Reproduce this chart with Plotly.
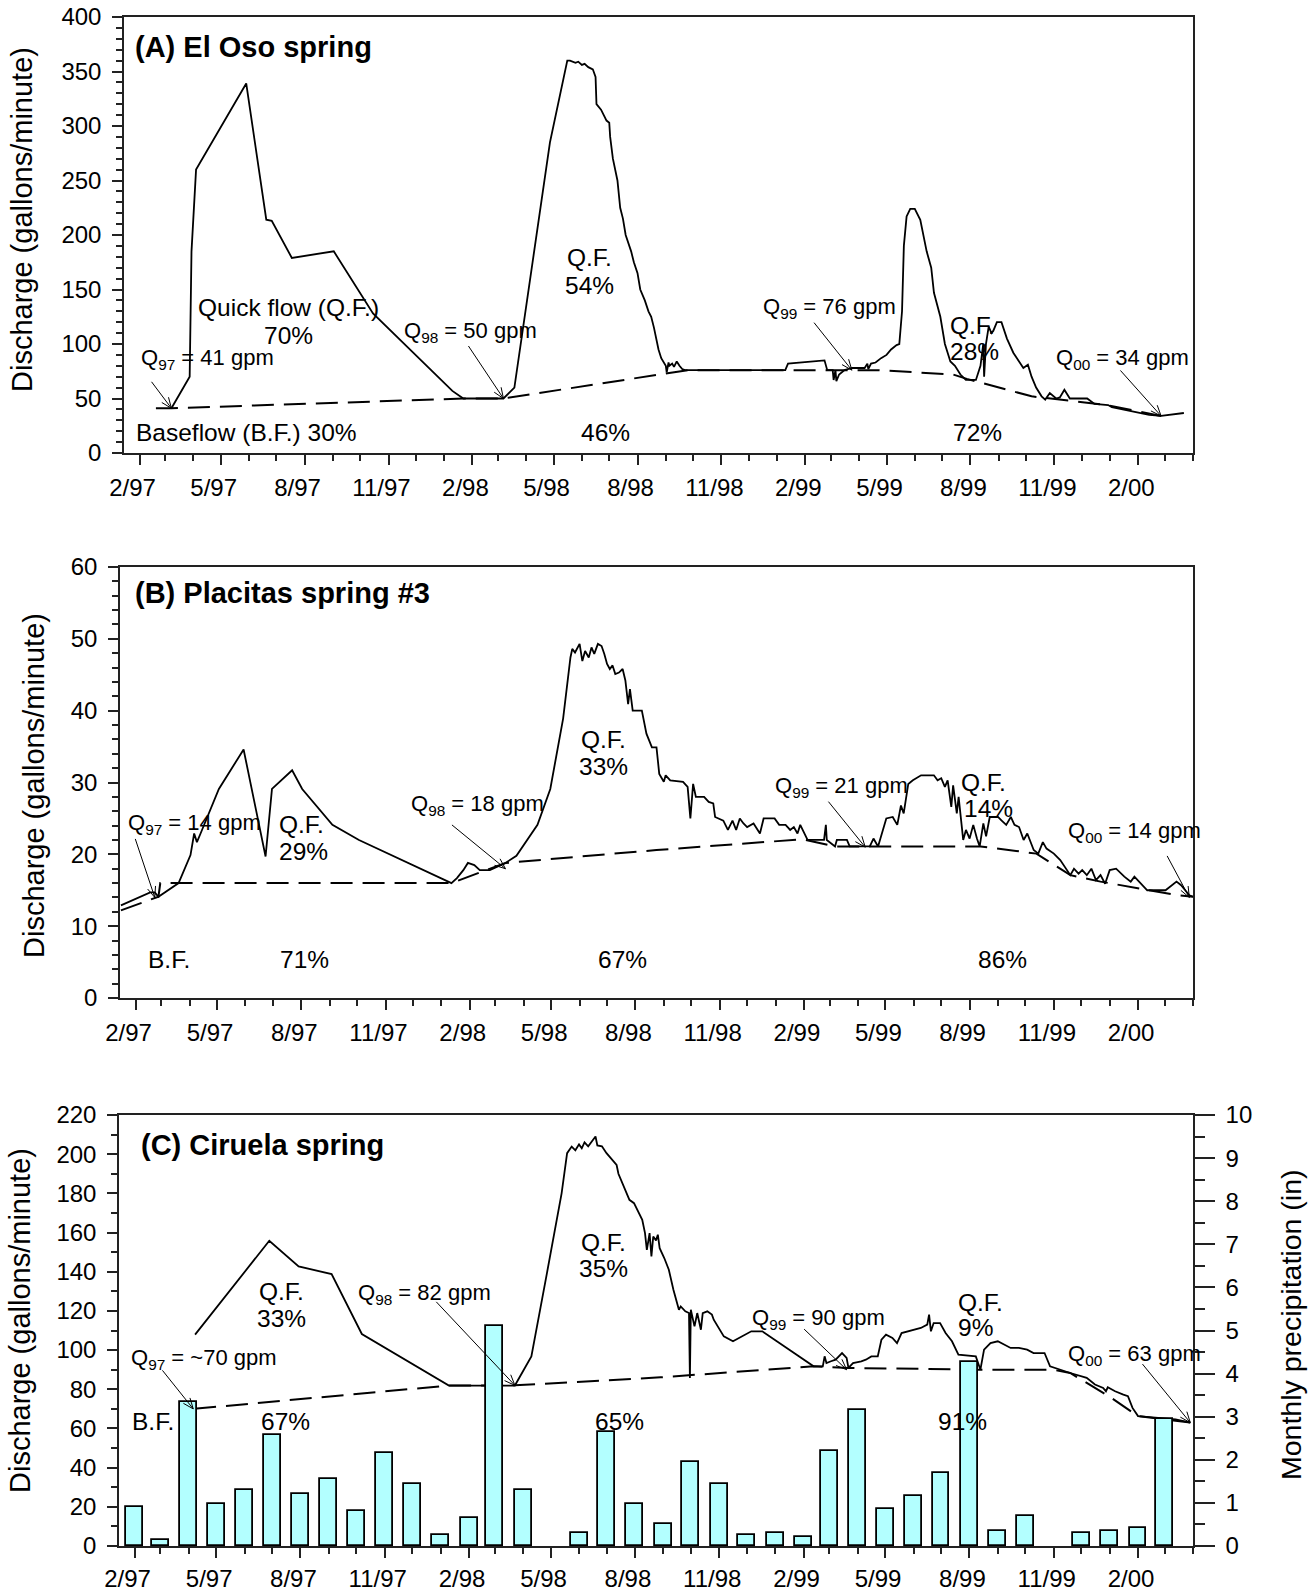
import math
import plotly.graph_objects as go

FONT = "Liberation Sans, Arial, sans-serif"
W, H = 1315, 1596
AXC = "#222222"

# ---------------- (A) El Oso spring ----------------
a_dates = [
    "1997-03-08", "1997-03-28", "1997-03-30", "1997-04-04", "1997-05-29", "1997-06-20",
    "1997-06-26", "1997-07-18", "1997-09-02", "1997-10-15", "1998-01-10", "1998-01-22",
    "1998-03-07", "1998-03-19", "1998-04-27", "1998-05-16", "1998-05-19", "1998-05-25",
    "1998-05-28", "1998-06-01", "1998-06-04", "1998-06-08", "1998-06-13", "1998-06-16",
    "1998-06-17", "1998-06-22", "1998-06-25", "1998-06-28", "1998-07-01", "1998-07-02",
    "1998-07-05", "1998-07-10", "1998-07-13", "1998-07-16", "1998-07-19", "1998-07-25",
    "1998-07-28", "1998-08-01", "1998-08-04", "1998-08-09", "1998-08-13", "1998-08-16",
    "1998-08-19", "1998-08-24", "1998-08-27", "1998-09-01", "1998-09-02", "1998-09-04",
    "1998-09-05", "1998-09-08", "1998-09-10", "1998-09-13", "1998-09-16", "1998-09-19",
    "1998-09-22", "1999-01-10", "1999-01-13", "1999-02-22", "1999-02-25", "1999-03-03",
    "1999-03-04", "1999-03-06", "1999-03-07", "1999-03-10", "1999-03-16", "1999-03-24",
    "1999-04-07", "1999-04-10", "1999-04-11", "1999-04-14", "1999-04-19", "1999-04-25",
    "1999-05-01", "1999-05-06", "1999-05-12", "1999-05-15", "1999-05-18", "1999-05-20",
    "1999-05-23", "1999-05-27", "1999-06-01", "1999-06-07", "1999-06-14", "1999-06-19",
    "1999-06-22", "1999-06-29", "1999-07-04", "1999-07-10", "1999-07-15", "1999-07-21",
    "1999-07-27", "1999-08-07", "1999-08-12", "1999-08-15", "1999-08-16", "1999-08-18",
    "1999-08-21", "1999-08-24", "1999-08-26", "1999-08-30", "1999-09-04", "1999-09-10",
    "1999-09-17", "1999-09-25", "1999-09-28", "1999-10-03", "1999-10-07", "1999-10-12",
    "1999-10-18", "1999-10-22", "1999-10-27", "1999-11-03", "1999-11-07", "1999-11-12",
    "1999-11-18", "1999-12-07", "1999-12-15", "1999-12-30", "2000-01-03", "2000-02-13",
    "2000-02-26", "2000-03-22",
]
a_flow = [
    41, 70, 185, 260, 339, 214,
    213, 179, 185, 128, 57, 50,
    50, 60, 285, 360, 360, 358,
    359, 356, 357, 354, 352, 345,
    320, 315, 310, 305, 303, 290,
    270, 250, 225, 215, 200, 185,
    175, 165, 150, 140, 130, 125,
    115, 95, 87, 80, 74, 83,
    80, 82, 79, 84, 80, 77,
    76, 76, 82, 85, 76, 76,
    67, 76, 66, 72, 76, 78,
    78, 82, 77, 82, 83, 87,
    90, 95, 99, 100, 130, 190,
    217, 224, 224, 214, 185, 170,
    147, 125, 100, 84, 80, 72,
    67, 67, 80, 100, 70, 100,
    116, 110, 112, 120, 120, 105,
    92, 82, 78, 81, 70, 60,
    52, 49, 55, 50, 51, 58,
    50, 50, 45, 44, 42, 35,
    34, 36.7,
]
a_base_dates = ["1997-02-19", "1997-03-08", "1998-01-22", "1998-03-07", "1998-09-25",
                "1999-04-22", "1999-07-13", "1999-07-28", "1999-10-07", "1999-12-28",
                "2000-02-26"]
a_base = [41, 41, 50, 50, 76, 76, 72, 68, 52, 44, 34]

# ---------------- (B) Placitas spring #3 ----------------
b_dates = [
    "1997-01-16", "1997-02-17", "1997-02-22", "1997-02-26", "1997-03-20", "1997-04-02",
    "1997-04-06", "1997-04-09", "1997-04-13", "1997-05-03", "1997-05-30", "1997-06-23",
    "1997-06-30", "1997-07-22", "1997-08-02", "1997-09-04", "1997-10-03", "1998-01-12",
    "1998-01-18", "1998-01-25", "1998-01-30", "1998-02-06", "1998-02-12", "1998-02-23",
    "1998-03-12", "1998-03-24", "1998-04-16", "1998-04-30", "1998-05-14", "1998-05-22",
    "1998-05-24", "1998-05-27", "1998-06-01", "1998-06-04", "1998-06-07", "1998-06-11",
    "1998-06-14", "1998-06-17", "1998-06-21", "1998-06-25", "1998-06-28", "1998-07-01",
    "1998-07-04", "1998-07-07", "1998-07-10", "1998-07-14", "1998-07-18", "1998-07-21",
    "1998-07-24", "1998-07-26", "1998-07-29", "1998-08-08", "1998-08-13", "1998-08-19",
    "1998-08-24", "1998-08-27", "1998-09-01", "1998-09-03", "1998-09-08", "1998-09-22",
    "1998-09-27", "1998-09-30", "1998-10-03", "1998-10-06", "1998-10-15", "1998-10-20",
    "1998-10-25", "1998-10-27", "1998-11-05", "1998-11-10", "1998-11-15", "1998-11-19",
    "1998-11-23", "1998-11-27", "1998-12-01", "1998-12-08", "1998-12-15", "1998-12-19",
    "1998-12-31", "1999-01-05", "1999-01-12", "1999-01-17", "1999-01-21", "1999-01-25",
    "1999-01-28", "1999-02-05", "1999-02-14", "1999-02-23", "1999-02-25", "1999-02-26",
    "1999-03-07", "1999-03-09", "1999-03-20", "1999-03-23", "1999-04-14", "1999-04-18",
    "1999-04-23", "1999-04-27", "1999-05-02", "1999-05-09", "1999-05-14", "1999-05-18",
    "1999-05-21", "1999-05-26", "1999-05-31", "1999-06-09", "1999-06-23", "1999-06-27",
    "1999-07-01", "1999-07-05", "1999-07-08", "1999-07-12", "1999-07-14", "1999-07-18",
    "1999-07-20", "1999-07-25", "1999-07-28", "1999-08-01", "1999-08-05", "1999-08-09",
    "1999-08-12", "1999-08-16", "1999-08-19", "1999-08-23", "1999-09-01", "1999-09-05",
    "1999-09-10", "1999-09-15", "1999-09-19", "1999-09-24", "1999-09-29", "1999-10-03",
    "1999-10-10", "1999-10-15", "1999-10-20", "1999-10-24", "1999-11-01", "1999-11-08",
    "1999-11-15", "1999-11-19", "1999-11-23", "1999-11-28", "1999-12-02", "1999-12-07",
    "1999-12-12", "1999-12-17", "1999-12-22", "1999-12-27", "2000-01-01", "2000-01-08",
    "2000-01-17", "2000-01-24", "2000-01-28", "2000-02-11", "2000-03-02", "2000-03-14",
    "2000-03-19", "2000-03-28", "2000-04-01",
]
b_flow = [
    12.9, 14.7, 14.7, 14.1, 16.0, 19.9,
    22.9, 21.7, 22.9, 29.1, 34.6, 19.7,
    29.1, 31.7, 29.1, 24.1, 22.0, 16.0,
    16.7, 17.8, 18.8, 18.5, 17.8, 17.8,
    18.8, 19.8, 24.1, 29.1, 38.9, 47.4,
    48.6, 48.1, 49.3, 46.9, 48.3, 47.4,
    48.8, 47.9, 49.3, 49.0, 47.9, 46.5,
    45.8, 46.3, 45.1, 45.3, 45.8, 44.2,
    40.9, 43.0, 40.0, 40.0, 36.8, 34.9,
    34.9, 31.2, 30.1, 31.0, 30.3, 30.1,
    29.4, 25.0, 29.8, 28.0, 28.0, 27.3,
    27.1, 25.2, 24.7, 23.4, 24.7, 23.4,
    25.0, 24.3, 23.8, 24.3, 22.9, 25.0,
    25.0, 24.1, 24.1, 23.4, 23.8, 22.9,
    24.1, 22.0, 22.0, 22.0, 24.1, 22.0,
    21.1, 22.0, 22.0, 21.1, 21.1, 22.2,
    21.1, 22.9, 25.0, 25.2, 24.1, 26.8,
    25.7, 29.8, 30.3, 31.0, 31.0, 30.3,
    30.6, 29.4, 30.3, 26.6, 29.6, 25.7,
    28.0, 22.0, 23.4, 22.2, 24.1, 22.2,
    21.1, 24.3, 22.5, 25.2, 25.2, 24.7,
    24.1, 25.2, 24.1, 23.8, 22.0, 22.9,
    20.6, 20.1, 21.7, 20.8, 20.1, 19.2,
    17.8, 17.1, 18.0, 17.3, 17.8, 17.1,
    18.0, 16.4, 17.1, 15.9, 17.8, 18.0,
    16.9, 16.2, 16.9, 15.0, 15.0, 16.2,
    15.7, 14.3, 14.1,
]
b_base_dates = ["1997-01-16", "1997-02-26", "1997-02-28", "1998-01-12", "1998-03-12",
                "1998-08-24", "1999-01-31", "1999-03-07", "1999-08-13", "1999-10-13",
                "1999-11-19", "1999-12-22", "2000-03-16", "2000-04-01"]
b_base = [12.2, 14.1, 16.0, 16.0, 18.8, 20.6, 22.1, 21.1, 21.1, 20.1, 17.1, 16.2, 14.3, 14.1]

# ---------------- (C) Ciruela spring ----------------
c_dates = [
    "1997-04-08", "1997-06-28", "1997-07-30", "1997-09-04", "1997-10-07", "1998-01-10",
    "1998-03-23", "1998-04-10", "1998-04-27", "1998-05-13", "1998-05-19", "1998-05-24",
    "1998-05-28", "1998-06-01", "1998-06-04", "1998-06-07", "1998-06-11", "1998-06-16",
    "1998-06-19", "1998-06-21", "1998-06-26", "1998-07-01", "1998-07-08", "1998-07-12",
    "1998-07-14", "1998-07-21", "1998-07-26", "1998-07-31", "1998-08-05", "1998-08-09",
    "1998-08-12", "1998-08-14", "1998-08-17", "1998-08-19", "1998-08-21", "1998-08-24",
    "1998-08-26", "1998-08-28", "1998-09-02", "1998-09-07", "1998-09-12", "1998-09-16",
    "1998-09-18", "1998-09-20", "1998-09-25", "1998-09-29", "1998-09-30", "1998-10-01",
    "1998-10-05", "1998-10-08", "1998-10-12", "1998-10-14", "1998-10-19", "1998-10-24",
    "1998-10-26", "1998-11-06", "1998-11-16", "1998-12-06", "1998-12-18", "1999-02-12",
    "1999-02-22", "1999-02-24", "1999-02-26", "1999-03-03", "1999-03-08", "1999-03-15",
    "1999-03-20", "1999-03-22", "1999-03-27", "1999-04-05", "1999-04-10", "1999-04-16",
    "1999-04-23", "1999-04-27", "1999-05-02", "1999-05-09", "1999-05-14", "1999-05-19",
    "1999-06-09", "1999-06-16", "1999-06-18", "1999-06-20", "1999-06-23", "1999-06-30",
    "1999-07-06", "1999-07-13", "1999-07-20", "1999-08-08", "1999-08-13", "1999-08-17",
    "1999-08-24", "1999-09-01", "1999-09-15", "1999-09-24", "1999-10-03", "1999-10-10",
    "1999-10-22", "1999-10-28", "1999-11-07", "1999-11-19", "1999-12-07", "1999-12-16",
    "1999-12-25", "1999-12-28", "1999-12-30", "2000-01-07", "2000-01-16", "2000-01-21",
    "2000-01-26", "2000-02-01", "2000-02-23", "2000-03-13", "2000-03-29",
]
c_flow = [
    107.9, 155.8, 142.7, 138.8, 108.2, 81.9,
    81.9, 96.8, 139.3, 180.0, 200.5, 203.9,
    202.0, 205.0, 203.0, 206.0, 204.0, 207.0,
    209.0, 204.5, 204.0, 200.5, 197.0, 194.5,
    190.0, 181.8, 176.7, 175.0, 169.9, 166.5,
    159.7, 151.2, 159.7, 147.8, 158.0, 156.0,
    158.9, 152.0, 147.0, 141.0, 130.8, 124.0,
    120.6, 122.3, 119.8, 118.9, 85.8, 120.6,
    112.1, 118.9, 110.4, 118.9, 119.8, 118.1,
    115.5, 107.0, 104.5, 109.6, 109.6, 91.7,
    91.7, 96.8, 93.4, 94.3, 95.1, 98.5,
    96.0, 90.9, 93.4, 94.3, 95.1, 96.8,
    96.8, 105.3, 107.9, 106.2, 103.6, 108.7,
    111.3, 113.0, 118.1, 109.6, 113.8, 113.8,
    108.7, 104.5, 97.7, 96.8, 90.0, 100.2,
    103.6, 104.5, 101.1, 101.1, 100.2, 98.5,
    98.5, 91.7, 90.0, 88.3, 85.8, 82.4,
    80.7, 79.0, 81.0, 79.0, 77.3, 76.5,
    70.5, 66.3, 65.4, 64.6, 63.0,
]
c_base_dates = ["1997-04-07", "1998-01-10", "1998-03-23", "1998-08-29", "1999-02-12",
                "1999-03-22", "1999-08-13", "1999-10-31", "1999-11-19", "1999-12-31",
                "2000-02-01", "2000-03-29"]
c_base = [70, 81.9, 82, 86.1, 91.7, 90.9, 90.0, 90.0, 88.3, 76.5, 66.3, 63]

# Monthly precipitation (in), Feb 1997 - Mar 2000 (None = no bar)
precip_months = [
    "1997-02-01", "1997-03-01", "1997-04-01", "1997-05-01", "1997-06-01", "1997-07-01",
    "1997-08-01", "1997-09-01", "1997-10-01", "1997-11-01", "1997-12-01", "1998-01-01",
    "1998-02-01", "1998-03-01", "1998-04-01", "1998-05-01", "1998-06-01", "1998-07-01",
    "1998-08-01", "1998-09-01", "1998-10-01", "1998-11-01", "1998-12-01", "1999-01-01",
    "1999-02-01", "1999-03-01", "1999-04-01", "1999-05-01", "1999-06-01", "1999-07-01",
    "1999-08-01", "1999-09-01", "1999-10-01", "1999-11-01", "1999-12-01", "2000-01-01",
    "2000-02-01", "2000-03-01",
]
precip_in = [
    0.90, 0.15, 3.35, 0.98, 1.30, 2.57,
    1.21, 1.55, 0.81, 2.15, 1.43, 0.25,
    0.66, 5.10, 1.30, None, 0.30, 2.65,
    0.98, 0.52, 1.95, 1.45, 0.25, 0.30,
    0.20, 2.20, 3.15, 0.87, 1.17, 1.70,
    4.27, 0.35, 0.70, None, 0.30, 0.35,
    0.42, 2.95,
]

X_RANGE = ["1997-01-15", "2000-04-01"]


def px(x):
    return x / W


def py(y):
    return 1 - y / H


fig = go.Figure()

solid = dict(color="black", width=1.8)
dashed = dict(color="black", width=2, dash="22px,10px")

for xs, ys, xa, ya in [(a_dates, a_flow, "x", "y"), (b_dates, b_flow, "x2", "y2"),
                       (c_dates, c_flow, "x3", "y3")]:
    fig.add_trace(go.Scatter(x=xs, y=ys, mode="lines", line=solid, xaxis=xa, yaxis=ya,
                             showlegend=False, hoverinfo="skip"))
for xs, ys, xa, ya in [(a_base_dates, a_base, "x", "y"), (b_base_dates, b_base, "x2", "y2"),
                       (c_base_dates, c_base, "x3", "y3")]:
    fig.add_trace(go.Scatter(x=xs, y=ys, mode="lines", line=dashed, xaxis=xa, yaxis=ya,
                             showlegend=False, hoverinfo="skip"))

fig.add_trace(go.Bar(
    x=precip_months, y=precip_in, xaxis="x3", yaxis="y4",
    width=18.5 * 86400000,
    marker=dict(color="#B3FFFF", line=dict(color="black", width=1.8)),
    showlegend=False, hoverinfo="skip",
))

tickfont = dict(family=FONT, size=24, color="black")


def xaxis(domain, anchor, standoff=2):
    return dict(
        type="date", range=X_RANGE, domain=domain, anchor=anchor,
        tickformat="%-m/%y", tick0="1997-02-01", dtick="M3",
        ticks="outside", ticklen=10, tickwidth=1.5, tickcolor=AXC,
        minor=dict(dtick="M1", tick0="1997-02-01", ticks="outside", ticklen=6,
                   tickwidth=1.5, tickcolor=AXC),
        showline=True, linecolor=AXC, linewidth=1.5, mirror=True,
        showgrid=False, zeroline=False, tickfont=tickfont,
        ticklabelshift=-7, ticklabelstandoff=standoff, automargin=False,
    )


def yaxis(domain, anchor, rng, dt, mdt):
    return dict(
        range=rng, domain=domain, anchor=anchor, dtick=dt, tick0=0,
        ticks="outside", ticklen=10, tickwidth=1.5, tickcolor=AXC,
        minor=dict(dtick=mdt, tick0=0, ticks="outside", ticklen=6, tickwidth=1.5,
                   tickcolor=AXC),
        showline=True, linecolor=AXC, linewidth=1.5, mirror=True,
        showgrid=False, zeroline=False, tickfont=tickfont,
        ticklabelstandoff=6, automargin=False,
    )


fig.update_layout(
    width=W, height=H, margin=dict(l=0, r=0, t=0, b=0),
    paper_bgcolor="white", plot_bgcolor="white",
    font=dict(family=FONT, color="black"),
    showlegend=False, bargap=0,
    xaxis=xaxis([px(124), px(1193)], "y"),
    yaxis=yaxis([py(453), py(17)], "x", [0, 400], 50, 10),
    xaxis2=xaxis([px(120), px(1193)], "y2"),
    yaxis2=yaxis([py(998), py(567)], "x2", [0, 60], 10, 2),
    xaxis3=xaxis([px(119), px(1193)], "y3", standoff=0),
    yaxis3=yaxis([py(1546), py(1115)], "x3", [0, 220], 20, 10),
    yaxis4=dict(
        range=[0, 10], overlaying="y3", anchor="x3", side="right", dtick=1, tick0=0,
        ticks="outside", ticklen=20, tickwidth=1.5, tickcolor=AXC,
        minor=dict(dtick=0.5, tick0=0, ticks="outside", ticklen=10, tickwidth=1.5,
                   tickcolor=AXC),
        showline=True, linecolor=AXC, linewidth=1.5,
        showgrid=False, zeroline=False, tickfont=tickfont,
        ticklabelstandoff=6, automargin=False,
    ),
)

ANN = 24.5
QSIZE = 22
annotations = []


def label(text, x, y, anchor="left", size=ANN, bold=False):
    annotations.append(dict(
        text=f"<b>{text}</b>" if bold else text,
        x=px(x), y=py(y), xref="paper", yref="paper",
        xanchor=anchor, yanchor="middle", showarrow=False,
        font=dict(family=FONT, size=size, color="black"),
    ))


def arrow(xd, yd, xref, yref, ax, ay):
    """Thin pointer with an open V head: the shaft plus two short barbs at the tip."""
    n = math.hypot(ax, ay)
    ux, uy = ax / n, ay / n
    segs = [(ax, ay)]
    for ang in (math.radians(22), math.radians(-22)):
        bx = ux * math.cos(ang) - uy * math.sin(ang)
        by = ux * math.sin(ang) + uy * math.cos(ang)
        segs.append((bx * 13, by * 13))
    for sx, sy in segs:
        annotations.append(dict(
            text="", x=xd, y=yd, xref=xref, yref=yref, ax=sx, ay=sy,
            showarrow=True, arrowhead=0, arrowwidth=1, arrowcolor="black",
            standoff=0, startstandoff=0,
        ))


# axis titles
for yc, xc in [(220, 22), (786, 34), (1321, 20)]:
    annotations.append(dict(
        text="Discharge (gallons/minute)", x=px(xc), y=py(yc), xref="paper", yref="paper",
        textangle=-90, showarrow=False, xanchor="center", yanchor="middle",
        font=dict(family=FONT, size=29, color="black"),
    ))
annotations.append(dict(
    text="Monthly precipitation (in)", x=px(1291), y=py(1325), xref="paper", yref="paper",
    textangle=-90, showarrow=False, xanchor="center", yanchor="middle",
    font=dict(family=FONT, size=28.5, color="black"),
))

# panel A
label("(A) El Oso spring", 133, 47, size=29, bold=True)
label("Quick flow (Q.F.)", 196, 308)
label("70%", 288, 335, "center")
label("Q<sub>97</sub> = 41 gpm", 139, 359, size=QSIZE)
label("Q<sub>98</sub> = 50 gpm", 402, 332, size=QSIZE)
label("Q.F.", 589, 258, "center")
label("54%", 589, 285, "center")
label("Q<sub>99</sub> = 76 gpm", 761, 308, size=QSIZE)
label("Q.F.", 948, 325)
label("28%", 948, 351)
label("Q<sub>00</sub> = 34 gpm", 1054, 359, size=QSIZE)
label("Baseflow (B.F.) 30%", 134, 432)
label("46%", 605, 432, "center")
label("72%", 977, 432, "center")
arrow("1997-03-08", 41, "x", "y", -21, -28)
arrow("1998-03-07", 50, "x", "y", -36, -54)
arrow("1999-03-24", 76, "x", "y", -39, -49)
arrow("2000-02-26", 34, "x", "y", -42, -47)

# panel B
label("(B) Placitas spring #3", 133, 593, size=29, bold=True)
label("Q<sub>97</sub> = 14 gpm", 126, 824, size=QSIZE)
label("Q.F.", 277, 824)
label("29%", 277, 851)
label("Q<sub>98</sub> = 18 gpm", 409, 805, size=QSIZE)
label("Q.F.", 603, 740, "center")
label("33%", 603, 766, "center")
label("Q<sub>99</sub> = 21 gpm", 773, 787, size=QSIZE)
label("Q.F.", 959, 782)
label("14%", 962, 808)
label("Q<sub>00</sub> = 14 gpm", 1066, 832, size=QSIZE)
label("B.F.", 169, 959, "center")
label("71%", 304, 959, "center")
label("67%", 622, 959, "center")
label("86%", 1002, 959, "center")
arrow("1997-02-22", 14, "x2", "y2", -20, -60)
arrow("1998-03-12", 18, "x2", "y2", -55, -45)
arrow("1999-04-09", 21, "x2", "y2", -38, -47)
arrow("2000-03-28", 14, "x2", "y2", -23, -43)

# panel C
label("(C) Ciruela spring", 139, 1145, size=29, bold=True)
label("Q.F.", 281, 1291, "center")
label("33%", 281, 1318, "center")
label("Q<sub>98</sub> = 82 gpm", 356, 1294, size=QSIZE)
label("Q<sub>97</sub> = ~70 gpm", 129, 1359, size=QSIZE)
label("B.F.", 153, 1421, "center")
label("67%", 285, 1421, "center")
label("Q.F.", 603, 1242, "center")
label("35%", 603, 1268, "center")
label("65%", 619, 1421, "center")
label("Q<sub>99</sub> = 90 gpm", 750, 1319, size=QSIZE)
label("Q.F.", 956, 1302)
label("9%", 956, 1327)
label("91%", 963, 1421, "center")
label("Q<sub>00</sub> = 63 gpm", 1066, 1355, size=QSIZE)
arrow("1997-04-06", 70, "x3", "y3", -32, -40)
arrow("1998-03-23", 82, "x3", "y3", -80, -85)
arrow("1999-03-20", 90, "x3", "y3", -44, -42)
arrow("2000-03-29", 63, "x3", "y3", -49, -60)

fig.update_layout(annotations=annotations)

fig.write_html("out.html")
